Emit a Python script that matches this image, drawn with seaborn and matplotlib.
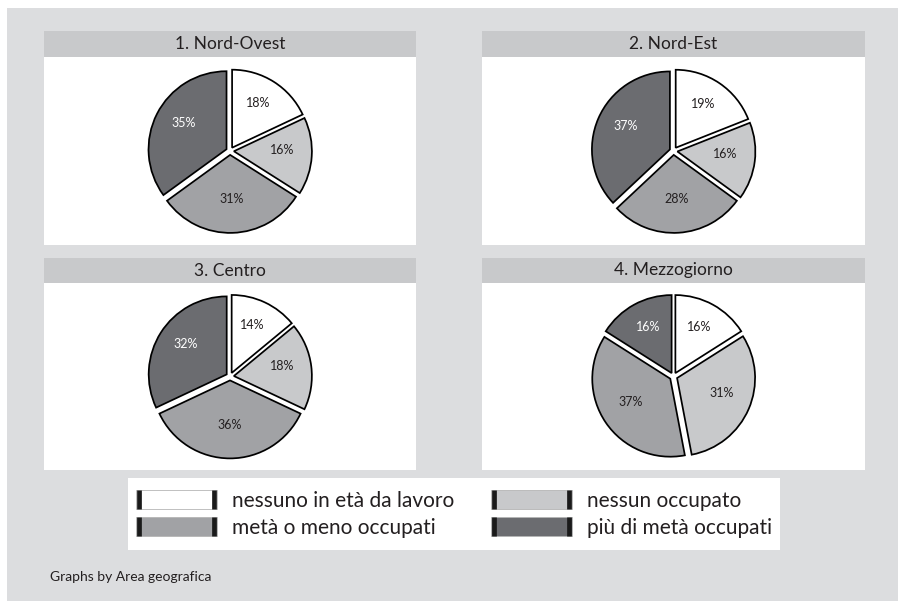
import matplotlib
matplotlib.use("Agg")
import matplotlib.pyplot as plt
import matplotlib.transforms as mtransforms
import seaborn as sns
from matplotlib.patches import Rectangle
from matplotlib.lines import Line2D
from matplotlib.legend_handler import HandlerBase

# ---- data -------------------------------------------------------------
areas = ["1. Nord-Ovest", "2. Nord-Est", "3. Centro", "4. Mezzogiorno"]
categories = ["nessuno in età da lavoro", "nessun occupato",
              "metà o meno occupati", "più di metà occupati"]
nord_ovest = [18, 16, 31, 35]
nord_est = [19, 16, 28, 37]
centro = [14, 18, 36, 32]
mezzogiorno = [16, 31, 37, 16]
note = "Graphs by Area geografica"

# ---- style ------------------------------------------------------------
sns.set_theme(style="white")
plt.rcParams["font.family"] = ["Lato", "DejaVu Sans"]

palette = sns.color_palette(["#ffffff", "#c8c9cb", "#a1a2a5", "#6b6c70"])
BG = "#dcdddf"
BAR = "#c8c9cb"
INK = "#231f20"

W, H = 898, 601
fig = plt.figure(figsize=(W / 100, H / 100), dpi=100)
fig.patch.set_facecolor("white")


def box(x0, y0, x1, y1):
    """Pixel box (origin top-left) -> figure fraction [left, bottom, w, h]."""
    return [x0 / W, 1 - y1 / H, (x1 - x0) / W, (y1 - y0) / H]


# outer graph region, behind everything
fig.patches.append(Rectangle((7 / W, 0), 1 - 7 / W, 1 - 8 / H,
                             transform=fig.transFigure, facecolor=BG,
                             edgecolor="none", zorder=-5))

panels = [
    (areas[0], nord_ovest, (44, 31, 416, 245), 26),
    (areas[1], nord_est, (482, 31, 865, 245), 26),
    (areas[2], centro, (44, 258, 416, 470), 25),
    (areas[3], mezzogiorno, (482, 258, 865, 470), 25),
]

for title, values, (x0, y0, x1, y1), th in panels:
    # title strip
    tax = fig.add_axes(box(x0, y0, x1, y0 + th))
    tax.set_facecolor(BAR)
    tax.set_xticks([]); tax.set_yticks([])
    for s in tax.spines.values():
        s.set_visible(False)
    tax.text(0.5, 0.5, title, ha="center", va="center",
             fontsize=12.5, color=INK, transform=tax.transAxes)

    # pie body
    ax = fig.add_axes(box(x0, y0 + th, x1, y1))
    wedges, texts, autotexts = ax.pie(
        values, colors=palette, startangle=90, counterclock=False,
        explode=[0.05] * len(values),
        wedgeprops=dict(edgecolor="black", linewidth=1.25),
        autopct=lambda p: f"{p:.0f}%", pctdistance=0.62,
        textprops=dict(fontsize=9, color=INK),
    )
    autotexts[-1].set_color("white")
    # labels sit slightly above the geometric slice midpoint
    lift = mtransforms.offset_copy(ax.transData, fig=fig, x=0, y=4,
                                   units="dots")
    for t in autotexts:
        t.set_transform(lift)
    ax.set_frame_on(True)
    ax.set_facecolor("white")
    for s in ax.spines.values():
        s.set_visible(False)
    hpx = (y1 - y0 - th)
    half = hpx / 2 / 78.0
    ax.set_ylim(-half, half)
    ax.set_xlim(-half * (x1 - x0) / hpx, half * (x1 - x0) / hpx)
    ax.set_aspect("equal", adjustable="box")


# ---- legend -----------------------------------------------------------
class SideBarKey(HandlerBase):
    def create_artists(self, legend, orig_handle, xdescent, ydescent,
                       width, height, fontsize, trans):
        x0, y0 = -xdescent, -ydescent
        fill = Rectangle((x0, y0), width, height,
                         facecolor=orig_handle.get_facecolor(),
                         edgecolor="#b5b5b5", linewidth=0.6, transform=trans)
        lw = 3.4
        left = Line2D([x0 + lw / 2] * 2, [y0, y0 + height], color="#1a1a1a",
                      linewidth=lw, solid_capstyle="butt", transform=trans)
        right = Line2D([x0 + width - lw / 2] * 2, [y0, y0 + height],
                       color="#1a1a1a", linewidth=lw, solid_capstyle="butt",
                       transform=trans)
        return [fill, left, right]


fig.patches.append(Rectangle((128 / W, 1 - 550 / H), (780 - 128) / W, 72 / H,
                             transform=fig.transFigure, facecolor="white",
                             edgecolor="none", zorder=1))

order = [0, 2, 1, 3]
handles = [Rectangle((0, 0), 1, 1, facecolor=palette[i]) for i in order]
labels = [categories[i] for i in order]
lb = box(128, 478, 780, 550)
leg = fig.legend(handles, labels, ncol=2, loc="center",
                 bbox_to_anchor=(lb[0], lb[1], lb[2], lb[3]),
                 frameon=False, fontsize=15, labelcolor=INK,
                 handler_map={Rectangle: SideBarKey()},
                 handlelength=3.85, handleheight=1.0, handletextpad=0.72,
                 columnspacing=1.8, labelspacing=0.33, borderpad=0.3)
leg.set_zorder(2)

fig.text(50 / W, 1 - 577 / H, note, ha="left", va="center",
         fontsize=10, color=INK)

fig.savefig("out.png", dpi=100, facecolor=fig.get_facecolor())
